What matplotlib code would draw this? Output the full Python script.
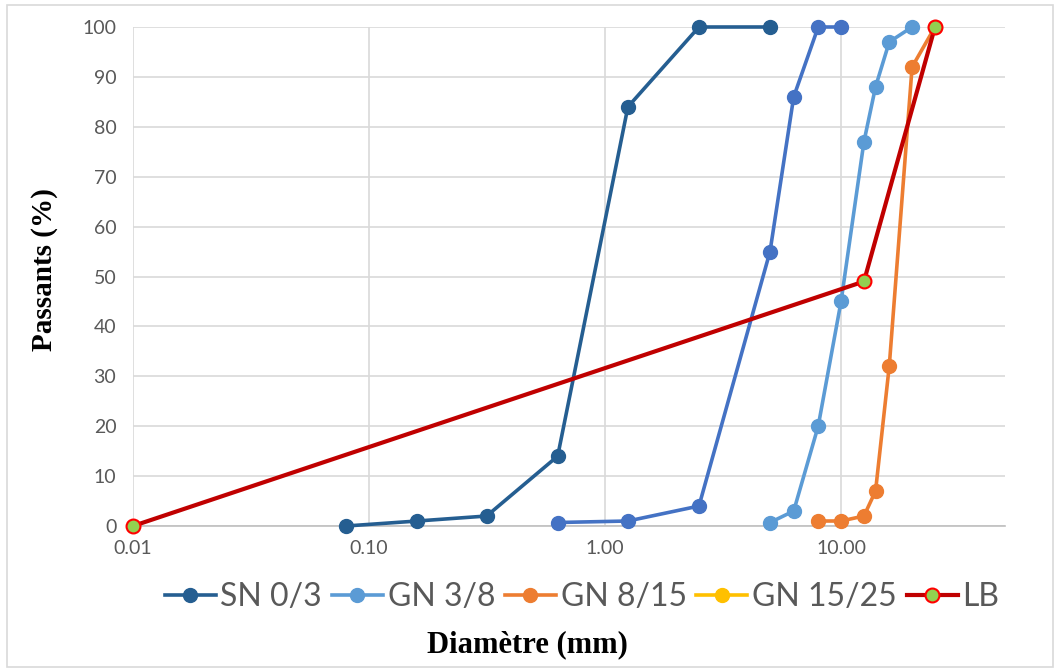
import numpy as np
import matplotlib
matplotlib.use('Agg')
import matplotlib.pyplot as plt
from matplotlib.ticker import FixedLocator, FixedFormatter, NullLocator
from matplotlib.patches import Rectangle

# sieve sizes (mm) and percent passing
sn_x = [0.08, 0.16, 0.315, 0.63, 1.25, 2.5, 5]
sn_y = [0, 1, 2, 14, 84, 100, 100]

extra_x = [0.63, 1.25, 2.5, 5, 6.3, 8, 10]
extra_y = [0.7, 1, 4, 55, 86, 100, 100]

gn38_x = [5, 6.3, 8, 10, 12.5, 14, 16, 20]
gn38_y = [0.7, 3, 20, 45, 77, 88, 97, 100]

gn815_x = [8, 10, 12.5, 14, 16, 20, 25]
gn815_y = [1, 1, 2, 7, 32, 92, 100]

gn1525_x = []
gn1525_y = []

lb_x = [0.01, 12.5, 25]
lb_y = [0, 49, 100]

x_ticks = [0.01, 0.1, 1, 10]
x_labels = ['0.01', '0.10', '1.00', '10.00']
y_ticks = list(range(0, 101, 10))

plt.rcParams['font.family'] = ['Lato', 'DejaVu Sans']

fig = plt.figure(figsize=(10.6, 6.71), dpi=100)
ax = fig.add_axes([133 / 1060, 1 - 526 / 671, (1005 - 133) / 1060, (526 - 27) / 671])

lw = 2.6
ms = 10
ax.plot(sn_x, sn_y, color='#255E91', lw=lw, marker='o', ms=ms, label='SN 0/3', zorder=3, clip_on=False)
ax.plot(extra_x, extra_y, color='#4472C4', lw=lw, marker='o', ms=ms, label='_nolegend_', zorder=3, clip_on=False)
ax.plot(gn38_x, gn38_y, color='#5B9BD5', lw=lw, marker='o', ms=ms, label='GN 3/8', zorder=3, clip_on=False)
ax.plot(gn815_x, gn815_y, color='#ED7D31', lw=lw, marker='o', ms=ms, label='GN 8/15', zorder=3, clip_on=False)
ax.plot(gn1525_x, gn1525_y, color='#FFC000', lw=lw, marker='o', ms=ms, label='GN 15/25', zorder=3)
ax.plot(lb_x, lb_y, color='#C00000', lw=3, marker='o', ms=ms, mfc='#92D050', mec='#FF0000',
        mew=1.5, label='LB', zorder=4, clip_on=False)

ax.set_xscale('log')
ax.set_xlim(0.01, 49.5)
ax.set_ylim(0, 100)
ax.xaxis.set_major_locator(FixedLocator(x_ticks))
ax.xaxis.set_major_formatter(FixedFormatter(x_labels))
ax.xaxis.set_minor_locator(NullLocator())
ax.set_yticks(y_ticks)

ax.grid(True, color='#D9D9D9', lw=1.2, zorder=0)
ax.set_axisbelow(True)
for s in ['top', 'right', 'left']:
    ax.spines[s].set_visible(False)
ax.spines['bottom'].set_color('#BFBFBF')
ax.spines['bottom'].set_linewidth(1.2)
ax.tick_params(length=0, labelsize=14, colors='#595959', pad=10)
ax.tick_params(axis='y', pad=12)

fig.text(45 / 1060, 1 - 270 / 671, 'Passants (%)', fontsize=21, fontweight='bold',
         family='Liberation Serif', rotation=90, ha='center', va='center')
fig.text((425 + 630) / 2 / 1060, 1 - 645 / 671, 'Diamètre (mm)', fontsize=22,
         fontweight='bold', family='Liberation Serif', ha='center', va='center')

leg = fig.legend(loc='center', bbox_to_anchor=(582 / 1060, 1 - 597 / 671), ncol=5,
                 frameon=False, fontsize=23, handlelength=1.6, handletextpad=0.15,
                 columnspacing=0.3, labelcolor='#595959')

fig.patches.append(Rectangle((7 / 1060, 4 / 671), 1046 / 1060, 662 / 671, transform=fig.transFigure,
                             fill=False, edgecolor='#D9D9D9', lw=1.2))

fig.savefig('out.png', dpi=100)
